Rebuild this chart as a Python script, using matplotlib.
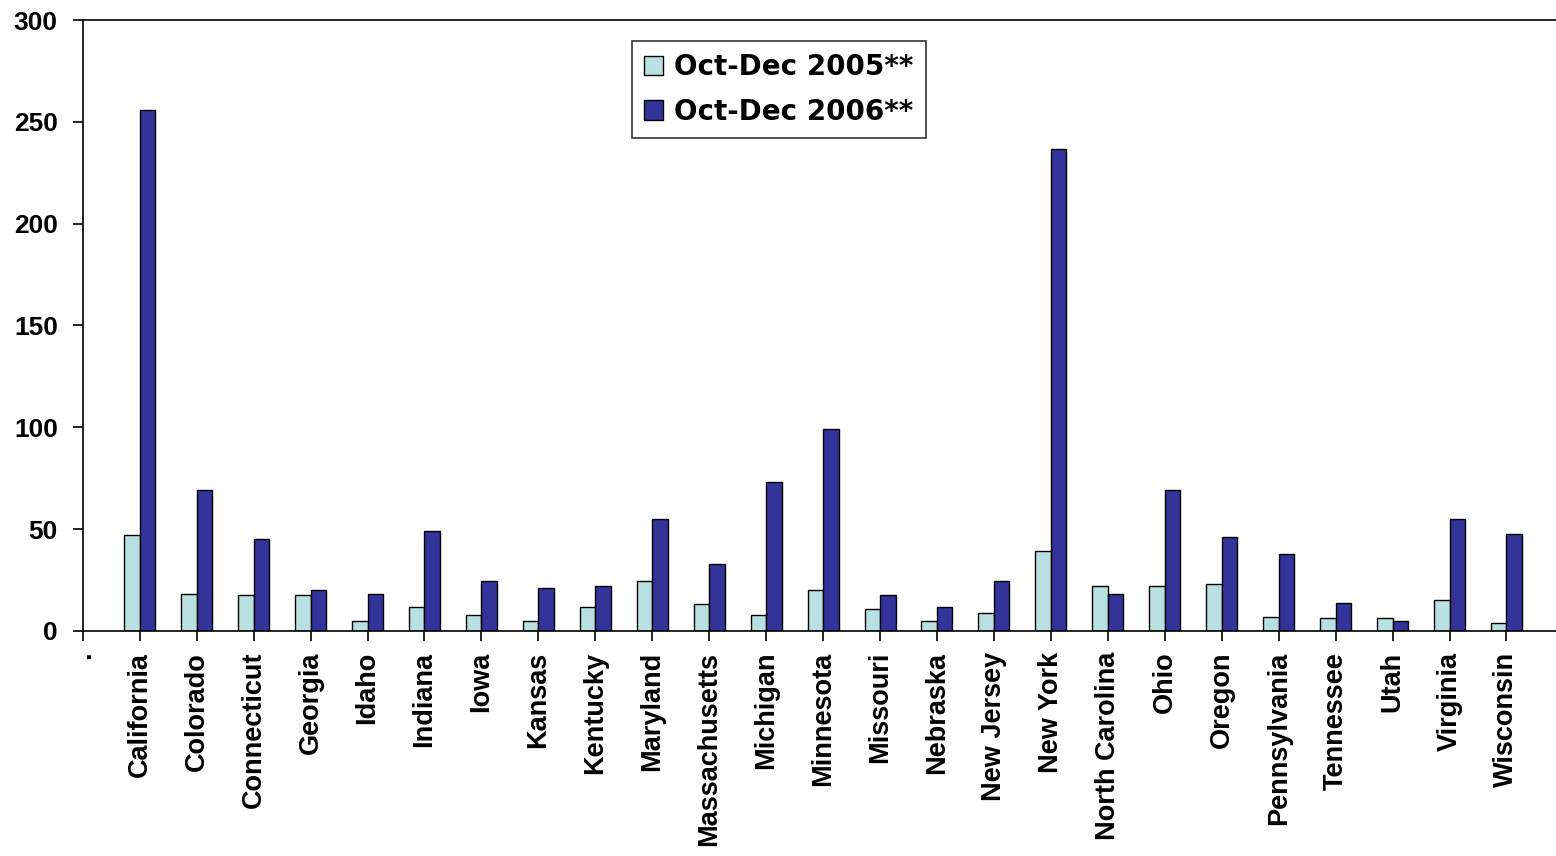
"""
Gráfico de barras agrupadas por estado: Oct-Dec 2005 vs Oct-Dec 2006.
Los valores se leyeron a ojo desde la imagen de referencia.
"""

import numpy as np
import matplotlib.pyplot as plt

# ----------------------------------------------------------------------
# Datos
# ----------------------------------------------------------------------
# La primera categoría "." está vacía en el original (sin barras).
states = [".", "California", "Colorado", "Connecticut", "Georgia", "Idaho",
          "Indiana", "Iowa", "Kansas", "Kentucky", "Maryland",
          "Massachusetts", "Michigan", "Minnesota", "Missouri", "Nebraska",
          "New Jersey", "New York", "North Carolina", "Ohio", "Oregon",
          "Pennsylvania", "Tennessee", "Utah", "Virginia", "Wisconsin"]

oct_dec_2005 = [np.nan, 47, 18, 17.5, 17.5, 5, 12, 8, 5, 12, 24.5, 13, 8,
                20, 11, 5, 9, 39.5, 22, 22, 23, 7, 6.5, 6.5, 15, 4]
oct_dec_2006 = [np.nan, 256, 69, 45, 20, 18, 49, 24.5, 21, 22, 55, 33, 73,
                99, 17.5, 12, 24.5, 236.5, 18, 69, 46, 38, 13.5, 5, 55, 47.5]

labels = ["Oct-Dec 2005**", "Oct-Dec 2006**"]
y_ticks = [0, 50, 100, 150, 200, 250, 300]

# ----------------------------------------------------------------------
# Figura
# ----------------------------------------------------------------------
plt.rcParams["font.family"] = ["Liberation Sans", "DejaVu Sans"]
plt.rcParams["font.weight"] = "bold"

fig = plt.figure(figsize=(15.56, 8.56), dpi=100)
ax = fig.add_axes([0.0532, 0.2629, 0.9468, 0.7137])

x = np.arange(len(states))
w = 0.272

ax.bar(x - w / 2, oct_dec_2005, width=w, color="#b9e0e1",
       edgecolor="black", linewidth=1.0, label=labels[0])
ax.bar(x + w / 2, oct_dec_2006, width=w, color="#333399",
       edgecolor="black", linewidth=1.0, label=labels[1])

ax.set_xlim(0, 25.87)
ax.set_ylim(0, 300)
ax.set_yticks(y_ticks)
ax.set_xticks(x)
ax.set_xticklabels(states, rotation=90, ha="center", va="top")

ax.tick_params(axis="y", direction="out", length=7, width=1.2, pad=11,
               labelsize=19)
ax.tick_params(axis="x", direction="out", length=7, width=1.2, pad=8,
               labelsize=19.5)

for side in ["left", "bottom", "top"]:
    ax.spines[side].set_linewidth(1.2)
ax.spines["right"].set_visible(False)

leg = ax.legend(loc="upper left", bbox_to_anchor=(0.3725, 0.966),
                frameon=True, fancybox=False, edgecolor="black",
                prop={"family": "DejaVu Sans", "weight": "bold", "size": 20},
                handlelength=0.7, handleheight=0.7, handletextpad=0.4,
                labelspacing=0.6, borderpad=0.44, borderaxespad=0)
leg.get_frame().set_linewidth(1.2)

fig.savefig("out.png", dpi=100)
